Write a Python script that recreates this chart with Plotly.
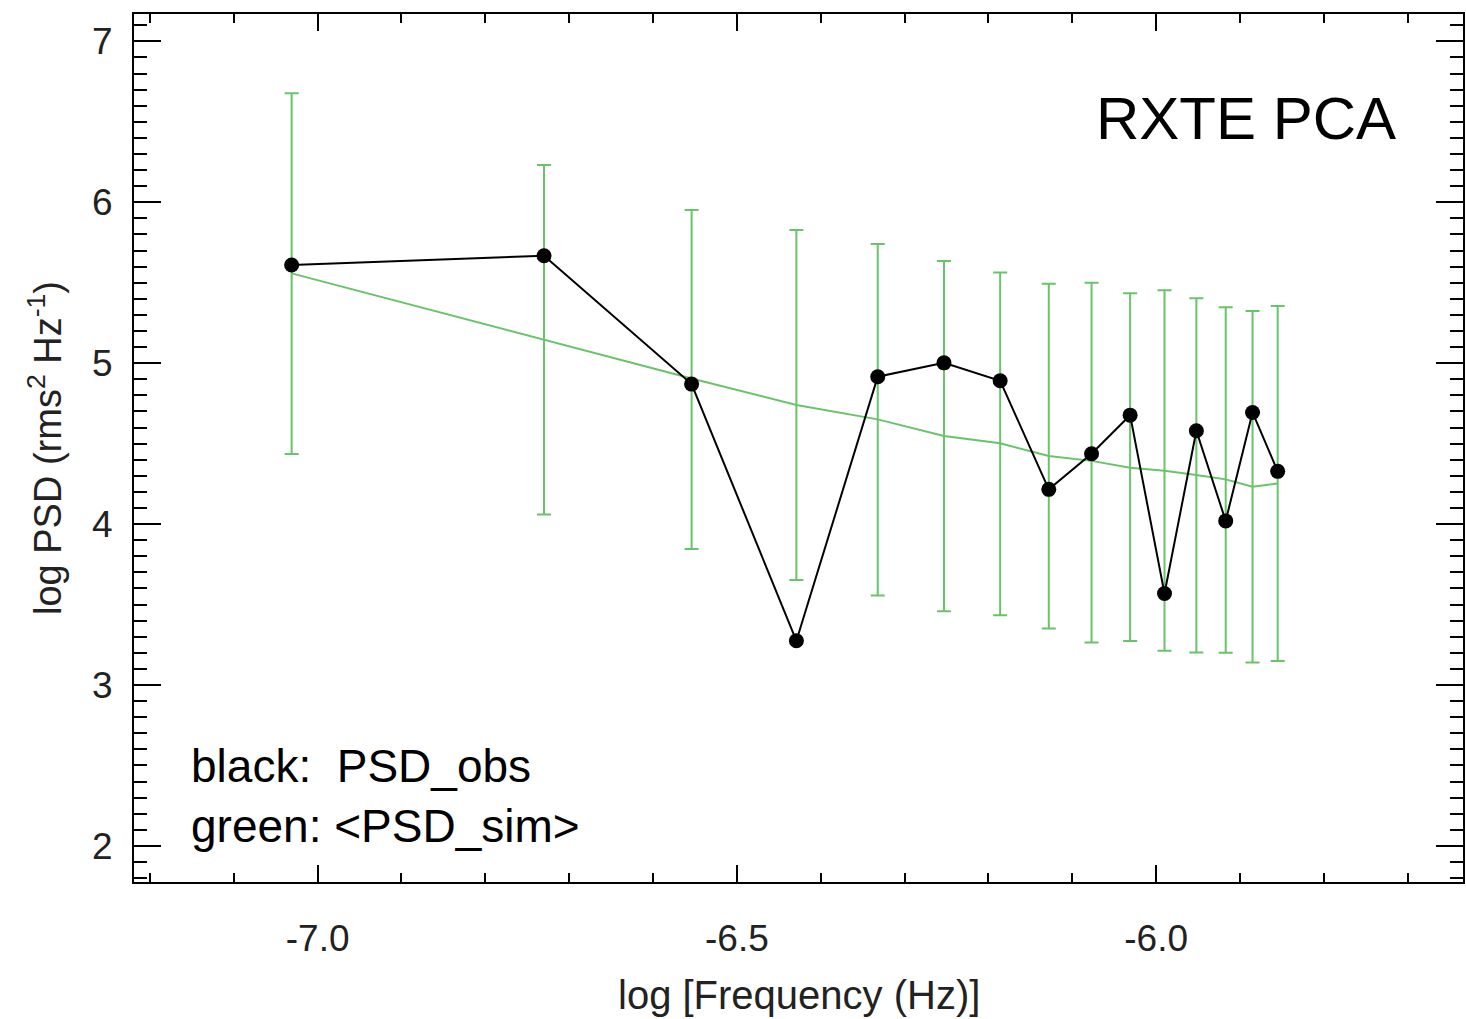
import plotly.graph_objects as go

# ---- data ----
log_freq = [-7.031, -6.730, -6.554, -6.429, -6.332, -6.253, -6.186, -6.128,
            -6.077, -6.031, -5.990, -5.952, -5.917, -5.885, -5.855]
psd_obs = [5.610, 5.668, 4.870, 3.275, 4.916, 5.002, 4.891, 4.216,
           4.437, 4.677, 3.569, 4.580, 4.020, 4.694, 4.328]
psd_sim_mean = [5.558, 5.148, 4.905, 4.740, 4.651, 4.547, 4.502, 4.423,
                4.393, 4.350, 4.331, 4.305, 4.278, 4.232, 4.253]
psd_sim_upper = [6.677, 6.231, 5.952, 5.827, 5.740, 5.635, 5.564, 5.494,
                 5.500, 5.434, 5.454, 5.403, 5.347, 5.324, 5.355]
psd_sim_lower = [4.435, 4.060, 3.846, 3.652, 3.557, 3.459, 3.434, 3.352,
                 3.265, 3.273, 3.213, 3.202, 3.200, 3.140, 3.149]

x_tickvals = [-7.0, -6.5, -6.0]
x_ticktext = ["-7.0", "-6.5", "-6.0"]
y_tickvals = [2, 3, 4, 5, 6, 7]
y_ticktext = ["2", "3", "4", "5", "6", "7"]

err_plus = [u - m for u, m in zip(psd_sim_upper, psd_sim_mean)]
err_minus = [m - l for m, l in zip(psd_sim_mean, psd_sim_lower)]

GREEN = "rgb(104,196,104)"
FONT = "Liberation Sans, Arial, Helvetica, sans-serif"

fig = go.Figure()
fig.add_trace(go.Scatter(
    x=log_freq, y=psd_sim_mean, mode="lines",
    line=dict(color=GREEN, width=2),
    error_y=dict(type="data", symmetric=False, array=err_plus,
                 arrayminus=err_minus, color=GREEN, thickness=2, width=7),
    showlegend=False, hoverinfo="skip"))
fig.add_trace(go.Scatter(
    x=log_freq, y=psd_obs, mode="lines+markers",
    line=dict(color="black", width=2),
    marker=dict(color="black", size=15),
    showlegend=False))

axis_common = dict(showline=True, linecolor="black", linewidth=2,
                   mirror="ticks", ticks="inside", tickcolor="black",
                   tickwidth=2, showgrid=False, zeroline=False,
                   tickfont=dict(family=FONT, size=37, color="#222"))

fig.update_xaxes(range=[-7.219, -5.634], tickmode="array",
                 tickvals=x_tickvals, ticktext=x_ticktext, ticklen=17,
                 minor=dict(dtick=0.1, tick0=0, ticks="inside", ticklen=9,
                            tickwidth=2, tickcolor="black", showgrid=False),
                 ticklabelstandoff=23, **axis_common)
fig.update_yaxes(range=[1.776, 7.170], tickmode="array",
                 tickvals=y_tickvals, ticktext=y_ticktext, ticklen=27,
                 minor=dict(dtick=0.1, tick0=0, ticks="inside", ticklen=13,
                            tickwidth=2, tickcolor="black", showgrid=False),
                 ticklabelstandoff=12, **axis_common)

annotations = [
    dict(text="log [Frequency (Hz)]", xref="paper", yref="paper",
         x=0.5, y=0, xanchor="center", yanchor="middle", yshift=-113,
         showarrow=False, font=dict(family=FONT, size=40, color="#222")),
    dict(text="log PSD (rms<sup>2</sup> Hz<sup>-1</sup>)", xref="paper",
         yref="paper", x=0, y=0.5, xanchor="center", yanchor="middle",
         xshift=-89, textangle=-90, showarrow=False,
         font=dict(family=FONT, size=38, color="#222")),
    dict(text="RXTE PCA", xref="x", yref="y", x=-5.711, y=6.52,
         xanchor="right", yanchor="middle", showarrow=False,
         font=dict(family=FONT, size=60, color="black")),
    dict(text="black:  PSD_obs", xref="x", yref="y", x=-7.153, y=2.495,
         xanchor="left", yanchor="middle", showarrow=False,
         font=dict(family=FONT, size=46, color="black")),
    dict(text="green: &lt;PSD_sim&gt;", xref="x", yref="y", x=-7.153, y=2.125,
         xanchor="left", yanchor="middle", showarrow=False,
         font=dict(family=FONT, size=46, color="black")),
]

fig.update_layout(width=1466, height=1019, autosize=False,
                  margin=dict(l=134, r=1, t=14, b=137),
                  plot_bgcolor="white", paper_bgcolor="white",
                  annotations=annotations, showlegend=False)

fig.write_html("out.html")
